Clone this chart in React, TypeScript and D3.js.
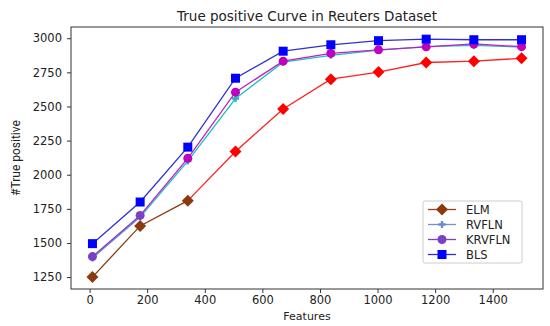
import * as d3 from "d3";
import { useEffect, useRef } from "react";

const features = [10, 175.6, 341.1, 506.7, 672.2, 837.8, 1003.3, 1168.9, 1334.4, 1500];
const elm = [1250, 1625, 1810, 2170, 2482, 2700, 2752, 2822, 2832, 2853];
const rvfln = [1390, 1690, 2100, 2558, 2825, 2875, 2913, 2938, 2947, 2935];
const krvfln = [1400, 1702, 2120, 2605, 2832, 2889, 2915, 2937, 2958, 2938];
const bls = [1495, 1800, 2202, 2707, 2905, 2952, 2982, 2993, 2989, 2989];
const yTicks = [1250, 1500, 1750, 2000, 2250, 2500, 2750, 3000];
const xTicks = [0, 200, 400, 600, 800, 1000, 1200, 1400];

interface Series {
  name: string;
  values: number[];
  line: string;
  marker: string;
  early: string;
  earlyCount: number;
  symbol: string;
}

const seriesList: Series[] = [
  { name: "ELM", values: elm, line: "#ff2020", marker: "#ff0000", early: "#8b3a0f", earlyCount: 3, symbol: "diamond" },
  { name: "RVFLN", values: rvfln, line: "#20c0c8", marker: "#20b8c0", early: "#6a8ac8", earlyCount: 2, symbol: "plus" },
  { name: "KRVFLN", values: krvfln, line: "#c020c0", marker: "#bf00bf", early: "#7b3fc8", earlyCount: 2, symbol: "circle" },
  { name: "BLS", values: bls, line: "#3030d0", marker: "#0000ff", early: "#0000ff", earlyCount: 0, symbol: "square" },
];

function App() {
  const ref = useRef<SVGSVGElement>(null);

  useEffect(() => {
    const svg = d3.select(ref.current);
    svg.selectAll("*").remove();
    const left = 71, right = 543, top = 27, bottom = 289;
    const x = d3.scaleLinear().domain([-64.5, 1574.5]).range([left, right]);
    const y = d3.scaleLinear().domain([1162.75, 3082.25]).range([bottom, top]);
    const font = "DejaVu Sans, sans-serif";

    svg.append("rect").attr("width", 550).attr("height", 326).attr("fill", "white");

    // axes
    const xAxis = svg.append("g").attr("transform", "translate(0," + bottom + ")")
      .call(d3.axisBottom(x).tickValues(xTicks).tickSize(4).tickPadding(3).tickFormat(d3.format("d")));
    const yAxis = svg.append("g").attr("transform", "translate(" + left + ",0)")
      .call(d3.axisLeft(y).tickValues(yTicks).tickSize(4).tickPadding(5).tickFormat(d3.format("d")));
    [xAxis, yAxis].forEach((g) => {
      g.select(".domain").remove();
      g.selectAll("line").attr("stroke", "#333");
      g.selectAll("text").attr("fill", "#222").style("font-family", font).style("font-size", "11.5px");
    });
    svg.append("rect").attr("x", left).attr("y", top).attr("width", right - left).attr("height", bottom - top)
      .attr("fill", "none").attr("stroke", "#333").attr("stroke-width", 1);

    svg.append("text").attr("x", 307).attr("y", 21).attr("text-anchor", "middle")
      .style("font-family", font).style("font-size", "13.5px").attr("fill", "#222")
      .text("True positive Curve in Reuters Dataset");
    svg.append("text").attr("x", 307).attr("y", 320).attr("text-anchor", "middle")
      .style("font-family", font).style("font-size", "11px").attr("fill", "#222").text("Features");
    svg.append("text").attr("transform", "translate(20,158) rotate(-90)").attr("text-anchor", "middle")
      .style("font-family", "Liberation Sans Narrow, Roboto, sans-serif").style("font-size", "12px").attr("fill", "#222")
      .text("#True positive");

    const drawMarker = (g: d3.Selection<SVGGElement, unknown, null, undefined>, symbol: string, cx: number, cy: number, color: string) => {
      if (symbol === "diamond") {
        g.append("path").attr("d", `M${cx},${cy - 6}L${cx + 6},${cy}L${cx},${cy + 6}L${cx - 6},${cy}Z`).attr("fill", color);
      } else if (symbol === "square") {
        g.append("rect").attr("x", cx - 4.5).attr("y", cy - 4.5).attr("width", 9).attr("height", 9).attr("fill", color);
      } else if (symbol === "circle") {
        g.append("circle").attr("cx", cx).attr("cy", cy).attr("r", 4.5).attr("fill", color);
      } else {
        g.append("path").attr("d", d3.symbol().type(d3.symbolCross).size(28)()).attr("transform", `translate(${cx},${cy})`).attr("fill", color);
      }
    };

    const line = d3.line<number>().x((_, i) => x(features[i])).y((d) => y(d));

    seriesList.forEach((s) => {
      const g = svg.append("g");
      if (s.earlyCount > 0) {
        g.append("path").datum(s.values.slice(0, s.earlyCount))
          .attr("d", line).attr("fill", "none").attr("stroke", s.early).attr("stroke-width", 1.3);
      }
      const startIdx = Math.max(0, s.earlyCount - 1);
      const rest = s.values.slice(startIdx);
      g.append("path").datum(rest)
        .attr("d", d3.line<number>().x((_, i) => x(features[i + startIdx])).y((d) => y(d)))
        .attr("fill", "none").attr("stroke", s.line).attr("stroke-width", 1.3);
      s.values.forEach((v, i) => {
        drawMarker(g, s.symbol, x(features[i]), y(v), i < s.earlyCount ? s.early : s.marker);
      });
    });

    // legend
    const lg = svg.append("g").attr("transform", "translate(423,201)");
    lg.append("rect").attr("width", 99).attr("height", 62).attr("rx", 2).attr("fill", "white")
      .attr("stroke", "#ccc").attr("stroke-width", 1);
    const legendColors = ["#8b3a0f", "#6a8ac8", "#7b3fc8", "#0000ff"];
    const legendLines = ["#a0401a", "#7090d0", "#8040c8", "#3030d0"];
    seriesList.forEach((s, i) => {
      const ly = 8.5 + i * 15;
      const g = lg.append("g");
      g.append("line").attr("x1", 5).attr("x2", 33).attr("y1", ly).attr("y2", ly)
        .attr("stroke", legendLines[i]).attr("stroke-width", 1.3);
      drawMarker(g, s.symbol, 19, ly, legendColors[i]);
      g.append("text").attr("x", 43).attr("y", ly + 4).style("font-family", font).style("font-size", "11.5px")
        .attr("fill", "#222").text(s.name);
    });
  }, []);

  return (
    <div style={{ position: "absolute", left: 0, top: 0 }}>
      <svg ref={ref} width={550} height={326} style={{ display: "block" }} />
    </div>
  );
}

export default App;
